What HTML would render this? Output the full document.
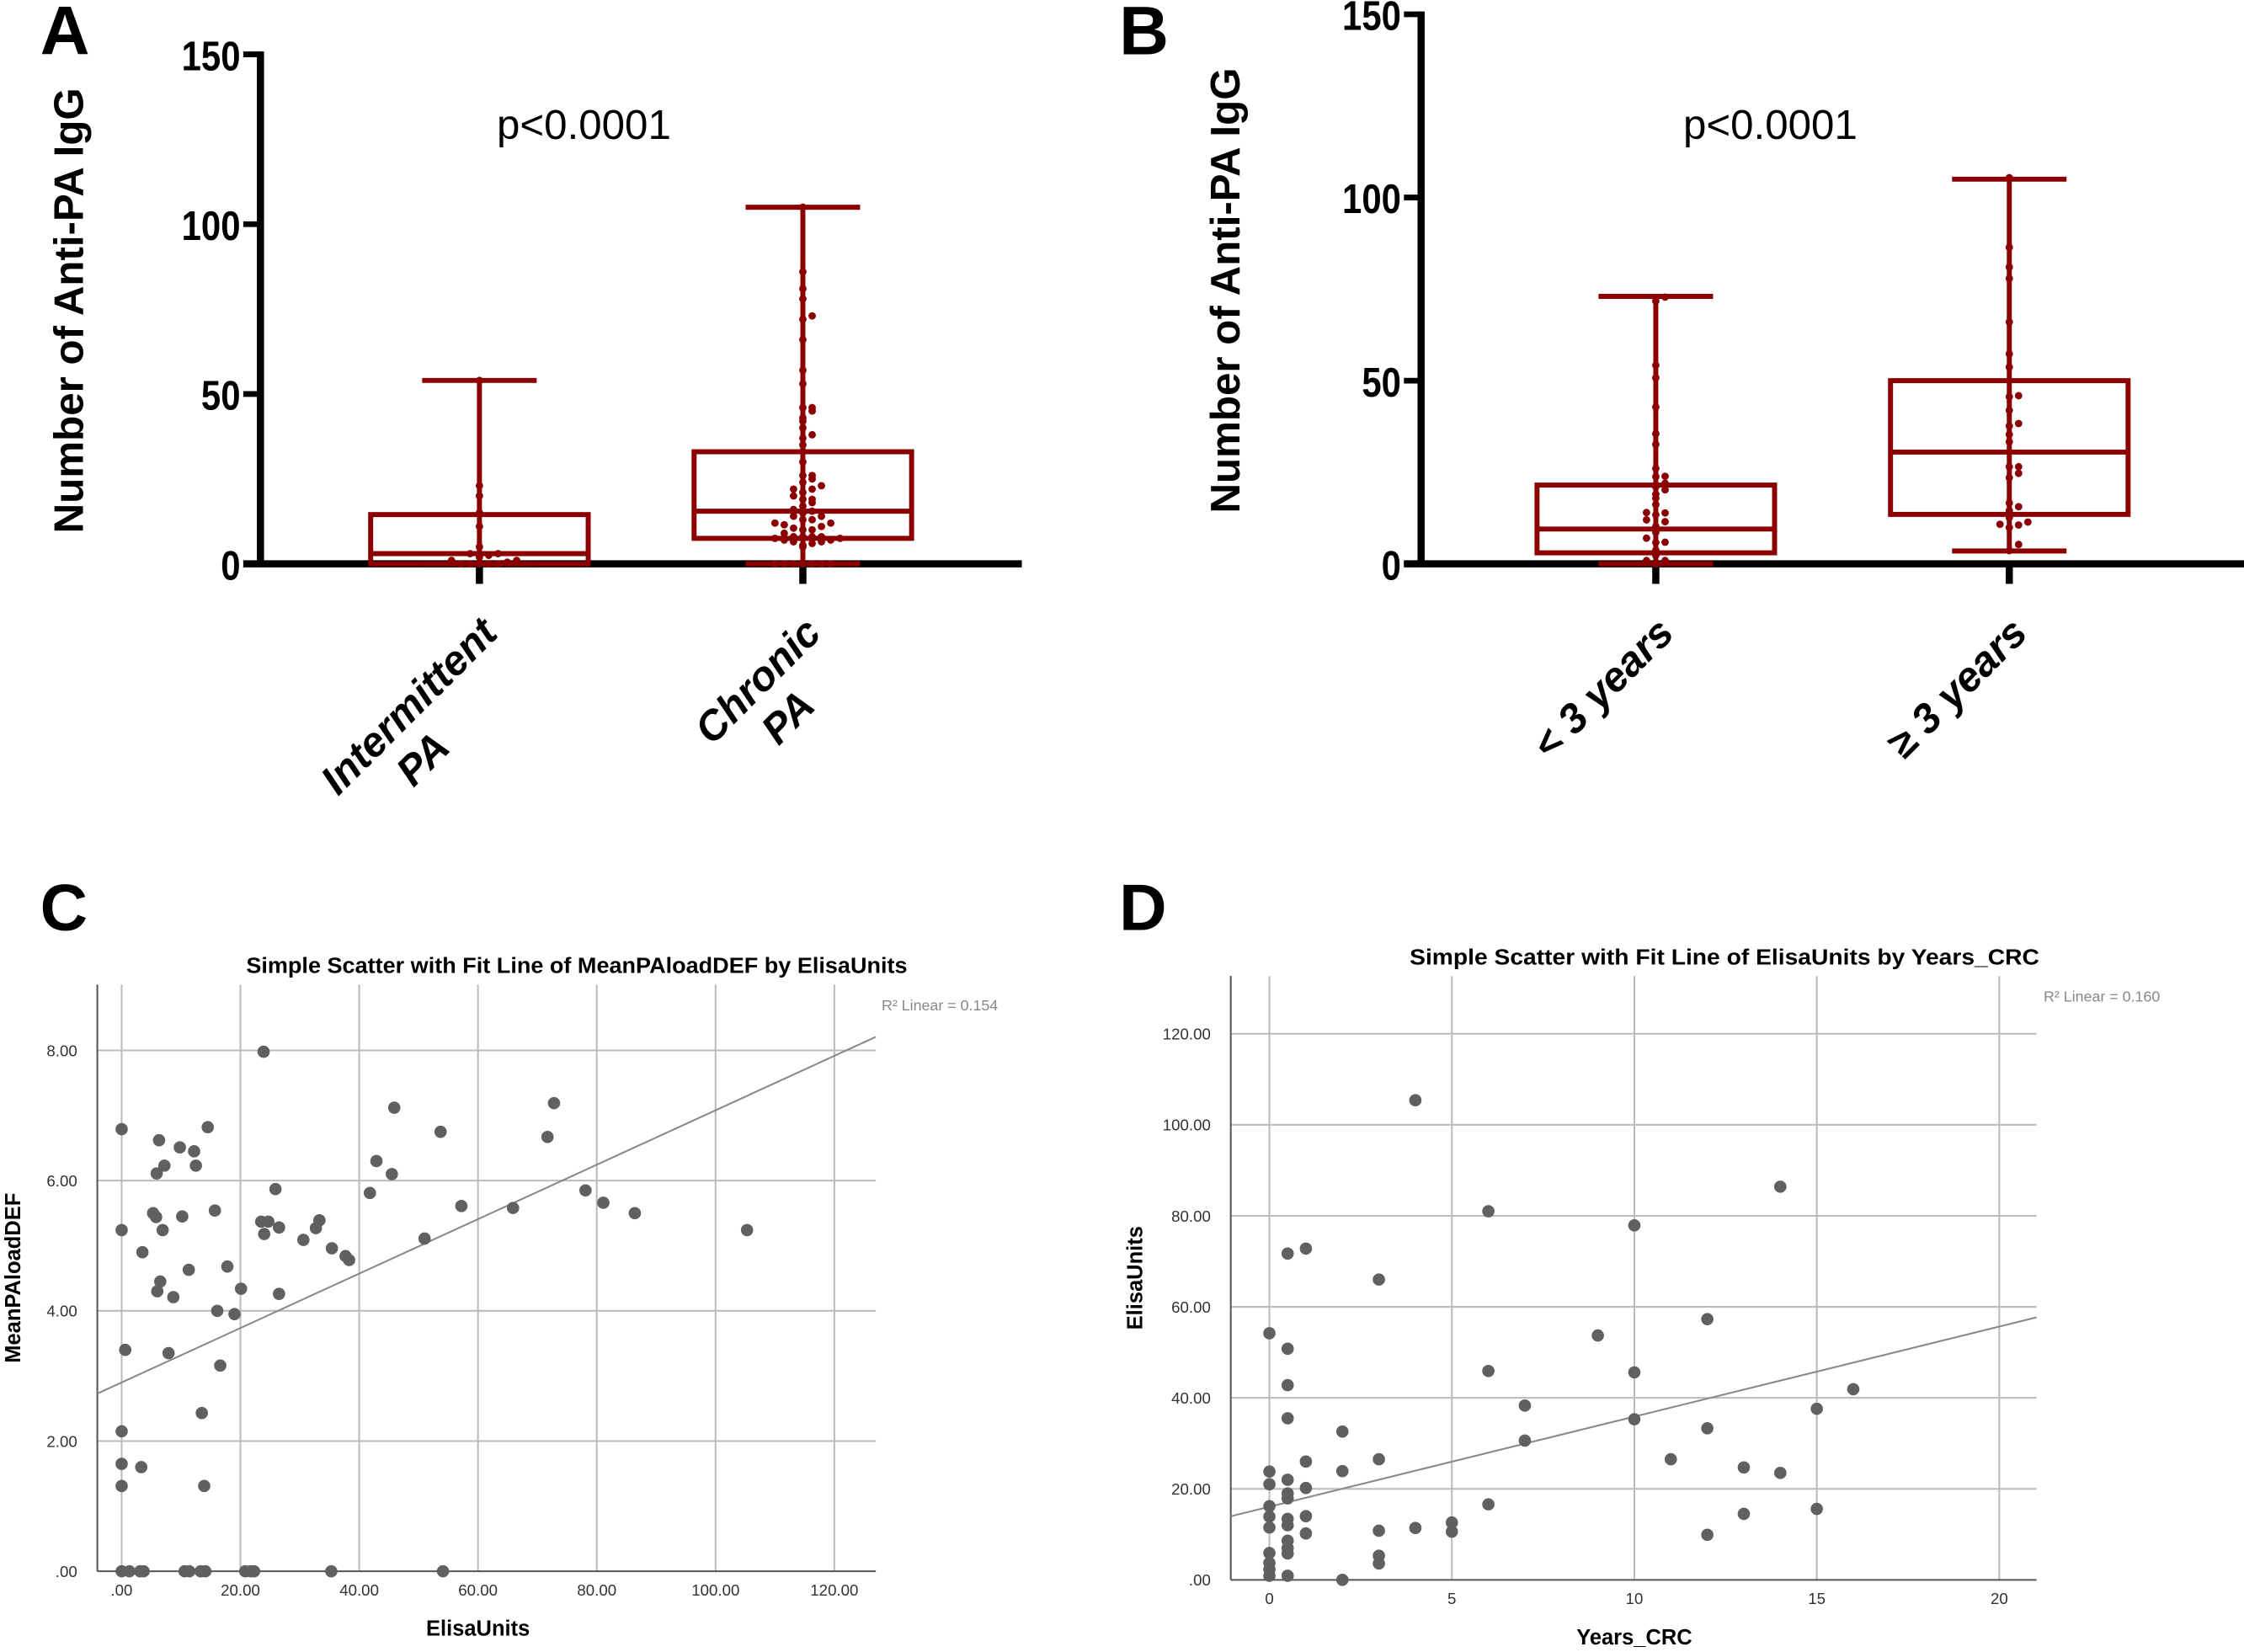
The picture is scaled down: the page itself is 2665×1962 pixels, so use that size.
<!DOCTYPE html>
<html><head><meta charset="utf-8"><style>
html,body{margin:0;padding:0;background:#fff;}
svg{display:block;}
.tk{font-family:"Liberation Sans",sans-serif;font-weight:bold;font-size:29px;}
.sp{font-family:"Liberation Sans",sans-serif;font-size:11px;fill:#333;}
</style></head><body>
<svg id="fig" width="2665" height="1962" viewBox="0 0 1568 1154.4" preserveAspectRatio="none" xmlns="http://www.w3.org/2000/svg">
<g id="pA"></g>
<g id="pB"></g>
<g id="pC"></g>
<g id="pD"></g>
</svg>
<script>
// ---- Box plot data ----
const boxCatsA = ["Intermittent|PA", "Chronic|PA"];
const boxStatsA = [[0,0,3,14.5,54],[0,7.5,15.5,33,105]]; // min,q1,med,q3,max
const dotsA1 = [0,0,0,0,0,0.5,1,1,2,2.5,3,3,5,11,15,20,23,54];
const dotsA2 = [0,0,0,0,0,0,0,5,5.5,6,6.5,6.5,7,7,7.5,7.5,8,8,8,8,9,10,10,10.5,11,11.5,12,12,13,13,14,14,15,15.5,16,17,18,19,19,20,21,22,22,23,24,25,26,26,30,33,35,37,38,40,42,43,45,46,46,53,57,66,72,73,78,81,86,105];
const boxCatsB = ["< 3 years", "≥ 3 years"];
const boxStatsB = [[0,3,9.5,21.5,73],[3.5,13.5,30.5,50,105]];
const axisTicksBox = [0,50,100,150];

// ---- Scatter C data ----
const cX = [0,0,0.6,0,0,0,3.3,3.5,6.3,5.9,7.2,5.3,5.8,6.9,6.5,6.0,8.7,7.9,9.8,12.2,12.5,14.5,10.2,11.3,15.7,17.8,16.1,19,16.6,13.5,13.9,20.1,23.9,23.5,24.7,24,25.9,26.5,26.5,30.6,32.7,33.3,35.4,37.7,38.3,41.8,42.9,45.5,45.9,51,53.7,57.2,65.9,71.7,72.8,78.1,81.1,86.4,105.3,0,1.3,3.1,3.7,10.6,11.4,13.3,14.1,20.8,21.7,22.3,35.3,54.1];
const cY = [6.79,5.24,3.40,2.15,1.65,1.31,1.60,4.90,6.62,6.11,6.23,5.50,5.44,5.24,4.45,4.30,4.21,3.35,6.51,6.45,6.23,6.82,5.45,4.63,5.54,4.68,4.00,3.95,3.16,2.43,1.31,4.34,7.98,5.37,5.37,5.18,5.87,5.28,4.26,5.09,5.27,5.39,4.96,4.84,4.78,5.81,6.30,6.10,7.12,5.11,6.75,5.61,5.58,6.67,7.19,5.85,5.66,5.50,5.24,0,0,0,0,0,0,0,0,0,0,0,0,0];
const cXTicks = [0,20,40,60,80,100,120];
const cXTickLabels = [".00","20.00","40.00","60.00","80.00","100.00","120.00"];
const cYTicks = [0,2,4,6,8];
const cYTickLabels = [".00","2.00","4.00","6.00","8.00"];
const cFit = [2.90, 0.0418];

// ---- Scatter D data ----
const dX = [0,0,0,0,0,0,0,0,0,0,0.5,0.5,0.5,0.5,0.5,0.5,0.5,0.5,0.5,0.5,0.5,0.5,0.5,1,1,1,1,1,2,2,2,3,3,3,3,3,4,4,5,5,6,6,6,7,7,9,10,10,10,11,12,12,12,13,13,14,14,15,15,16];
const dY = [54.2,23.8,21,16.2,13.9,11.5,5.9,3.7,2.3,0.9,71.7,50.8,42.8,35.5,22,19,17.9,13.4,12,8.6,7,5.8,0.9,72.8,26,20.2,14,10.2,32.6,23.9,0,66,26.5,10.8,5.3,3.6,105.4,11.4,12.6,10.6,81,45.9,16.6,38.3,30.6,53.7,77.9,45.6,35.3,26.5,57.3,33.3,9.9,24.7,14.5,86.4,23.5,37.6,15.6,41.9];
const dXTicks = [0,5,10,15,20];
const dYTicks = [0,20,40,60,80,100,120];
const dYTickLabels = [".00","20.00","40.00","60.00","80.00","100.00","120.00"];
const dFit = [16.07, 1.98];

const NS="http://www.w3.org/2000/svg";
function mk(parent, tag, attrs, text){const e=document.createElementNS(NS,tag);for(const k in attrs)e.setAttribute(k,attrs[k]);if(text!==undefined)e.textContent=text;parent.appendChild(e);return e;}
const RED="#8b0000";

function boxPanel(g, o){
  const y=v=>o.y0-(v/150)*(o.y0-o.y150);
  let e=mk(g,'text',{x:o.letterX,y:38,'font-family':'Liberation Sans, sans-serif','font-weight':'bold','font-size':48},o.letter);
  
  e=mk(g,'line',{x1:o.ax,y1:y(150)-2,x2:o.ax,y2:y(0),stroke:'#000','stroke-width':5});
  
  e=mk(g,'line',{x1:o.ax-12,y1:y(0),x2:o.xEnd,y2:y(0),stroke:'#000','stroke-width':5});
  
  axisTicksBox.forEach(t=>{
    let l=mk(g,'line',{x1:o.ax-12,y1:y(t),x2:o.ax,y2:y(t),stroke:'#000','stroke-width':4});
    
    let tx=mk(g,'text',{x:o.ax-14,y:y(t)+11,'text-anchor':'end',class:'tk',transform:`translate(${o.ax-14},0) scale(0.85,1) translate(${-(o.ax-14)},0)`},String(t));
    
  });
  e=mk(g,'text',{x:0,y:0,'text-anchor':'middle',class:'tk','font-size':30,transform:`translate(${o.titleX},${o.titleY}) rotate(-90)`},'Number of Anti-PA IgG');
  
  e=mk(g,'text',{x:o.pX,y:97,'text-anchor':'middle','font-family':'Liberation Sans, sans-serif','font-size':29},'p<0.0001');
  
  o.cats.forEach((c,i)=>{
    const cx=o.cx[i], s=o.stats[i], hw=o.hw, cw=40;
    let t=mk(g,'line',{x1:cx,y1:y(0),x2:cx,y2:y(0)+14,stroke:'#000','stroke-width':5});
    
    let w=mk(g,'line',{x1:cx,y1:y(s[0]),x2:cx,y2:y(s[4]),stroke:RED,'stroke-width':3.5});
    
    [s[0],s[4]].forEach(v=>{let cp=mk(g,'line',{x1:cx-cw,y1:y(v),x2:cx+cw,y2:y(v),stroke:RED,'stroke-width':3.5});
      });
    let b=mk(g,'rect',{x:cx-hw,y:y(s[3]),width:2*hw,height:y(s[1])-y(s[3]),fill:'none',stroke:RED,'stroke-width':3.5});
    
    let m=mk(g,'line',{x1:cx-hw,y1:y(s[2]),x2:cx+hw,y2:y(s[2]),stroke:RED,'stroke-width':3.5});
    
    const vals=o.dots[i].slice().sort((a,b)=>a-b);const bins={};
    vals.forEach(v=>{const k=Math.round(v/2.2);bins[k]=(bins[k]||0)+1;const n=bins[k]-1;const off=(n%2?1:-1)*Math.ceil(n/2)*6.5;
      let d=mk(g,'circle',{cx:cx+off,cy:y(v),r:2.6,fill:RED});
      });
    const parts=c.split('|');
    const lg=mk(g,'g',{transform:`translate(${cx+14},${y(0)+50}) rotate(-45)`});
    
    if(parts.length===1){mk(lg,'text',{x:0,y:0,'text-anchor':'end',class:'tk','font-style':'italic','font-size':30},parts[0]);}
    else{const L=parts[0].length*16.5;mk(lg,'text',{x:0,y:0,'text-anchor':'end',class:'tk','font-style':'italic','font-size':30},parts[0]);
      mk(lg,'text',{x:-L/2,y:33,'text-anchor':'middle',class:'tk','font-style':'italic','font-size':30},parts[1]);}
  });
}
boxPanel(document.getElementById('pA'),{letter:'A',letterX:28,ax:182,y0:394,y150:38,xEnd:714,titleX:58,titleY:217,pX:408,cats:boxCatsA,cx:[335,561],hw:76,stats:boxStatsA,dots:[dotsA1,dotsA2]});
const bDots1=[],bDots2=[];dX.forEach((x,i)=>{(x<3?bDots1:bDots2).push(dY[i]);});
boxPanel(document.getElementById('pB'),{letter:'B',letterX:782,ax:993,y0:394,y150:10,xEnd:1568,titleX:866,titleY:203,pX:1237,cats:boxCatsB,cx:[1157,1404],hw:83,stats:boxStatsB,dots:[bDots1,bDots2]});

function scatter(g,o){
  const X=v=>o.px0+(v-o.x0v)*o.sx, Y=v=>o.py0-v*o.sy;
  let e=mk(g,'text',{x:o.letterX,y:o.letterY,'font-family':'Liberation Sans, sans-serif','font-weight':'bold','font-size':46},o.letter);
  
  e=mk(g,'text',{x:o.titleX,y:o.top-8,'text-anchor':'middle','font-family':'Liberation Sans, sans-serif','font-weight':'bold','font-size':15,textLength:o.titleW,lengthAdjust:'spacingAndGlyphs'},o.title);
  
  o.xt.forEach((t,i)=>{let l=mk(g,'line',{x1:X(t),y1:o.top,x2:X(t),y2:o.py0,stroke:'#bbb','stroke-width':1.2});
    
    let tx=mk(g,'text',{x:X(t),y:o.py0+17,'text-anchor':'middle',class:'sp'},o.xl[i]);
    });
  o.yt.forEach((t,i)=>{if(t>0){let l=mk(g,'line',{x1:o.left,y1:Y(t),x2:o.right,y2:Y(t),stroke:'#bbb','stroke-width':1.2});
    }
    let tx=mk(g,'text',{x:o.left-14,y:Y(t)+4,'text-anchor':'end',class:'sp'},o.yl[i]);
    });
  e=mk(g,'line',{x1:o.left,y1:o.top,x2:o.left,y2:o.py0,stroke:'#555','stroke-width':1.2});
  
  e=mk(g,'line',{x1:o.left,y1:o.py0,x2:o.right,y2:o.py0,stroke:'#555','stroke-width':1.2});
  
  const xl=(o.left-o.px0)/o.sx+o.x0v, xr=(o.right-o.px0)/o.sx+o.x0v;
  e=mk(g,'line',{x1:o.left,y1:Y(o.fit[0]+o.fit[1]*xl),x2:o.right,y2:Y(o.fit[0]+o.fit[1]*xr),stroke:'#888','stroke-width':1.2});
  
  o.xs.forEach((x,i)=>{let d=mk(g,'circle',{cx:X(x),cy:Y(o.ys[i]),r:4.3,fill:'#606060'});
    });
  e=mk(g,'text',{x:o.r2X,y:o.top+18,'font-family':'Liberation Sans, sans-serif','font-size':10.5,fill:'#888'},o.r2);
  
  e=mk(g,'text',{x:X(o.xTitleV),y:o.py0+45,'text-anchor':'middle','font-family':'Liberation Sans, sans-serif','font-weight':'bold','font-size':15},o.xTitle);
  
  e=mk(g,'text',{x:0,y:0,'text-anchor':'middle','font-family':'Liberation Sans, sans-serif','font-weight':'bold','font-size':15,transform:`translate(${o.yTitleX},${(o.top+o.py0)/2}) rotate(-90)`},o.yTitle);
  
}
scatter(document.getElementById('pC'),{letter:'C',letterX:28,letterY:650,title:'Simple Scatter with Fit Line of MeanPAloadDEF by ElisaUnits',titleX:403,titleW:462,top:688,left:68,right:612,px0:85,x0v:0,sx:4.15,py0:1098,sy:45.5,
  xt:cXTicks,xl:cXTickLabels,yt:cYTicks,yl:cYTickLabels,fit:cFit,xs:cX,ys:cY,r2:'R² Linear = 0.154',r2X:616,xTitle:'ElisaUnits',xTitleV:60,yTitle:'MeanPAloadDEF',yTitleX:14});
scatter(document.getElementById('pD'),{letter:'D',letterX:782,letterY:650,title:'Simple Scatter with Fit Line of ElisaUnits by Years_CRC',titleX:1205,titleW:440,top:682,left:860,right:1423,px0:887,x0v:0,sx:25.5,py0:1104,sy:3.18,
  xt:dXTicks,xl:dXTicks.map(String),yt:dYTicks,yl:dYTickLabels,fit:dFit,xs:dX,ys:dY,r2:'R² Linear = 0.160',r2X:1428,xTitle:'Years_CRC',xTitleV:10,yTitle:'ElisaUnits',yTitleX:798});
</script>
</body></html>
